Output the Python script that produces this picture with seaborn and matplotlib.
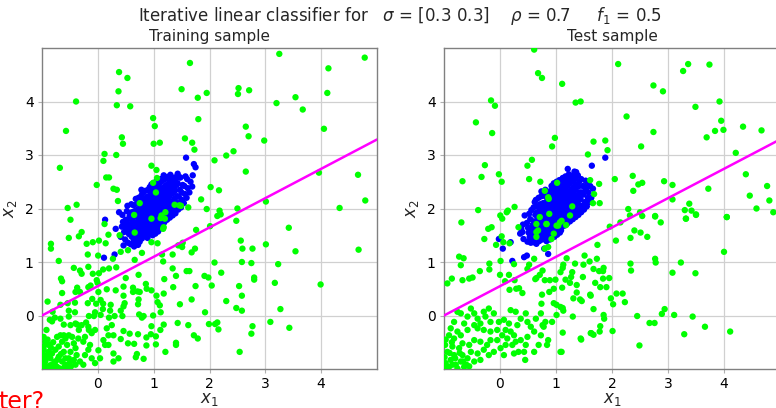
import matplotlib
matplotlib.use("Agg")
import matplotlib.pyplot as plt
import seaborn as sns
import pandas as pd

# ---------------- data ----------------
train_blue = [
    (0.11,1.08),(0.30,1.14),(0.13,1.79),(0.32,1.62),(1.58,2.95),(1.72,2.83),(1.75,2.77),
    (0.38,1.93),(0.41,1.47),(0.43,1.66),
    (0.46,1.31),(0.45,1.75),(0.47,1.56),(0.44,1.88),
    (0.49,1.42),(0.51,1.60),(0.50,1.79),(0.52,1.95),(0.48,1.68),
    (0.54,1.36),(0.56,1.52),(0.55,1.71),(0.57,1.86),(0.53,2.05),(0.56,1.63),
    (0.59,1.33),(0.61,1.47),(0.60,1.58),(0.62,1.70),(0.58,1.81),(0.61,1.93),(0.60,2.08),(0.63,1.77),
    (0.64,1.38),(0.66,1.50),(0.65,1.62),(0.67,1.72),(0.63,1.84),(0.66,1.95),(0.64,2.06),(0.68,2.18),(0.65,1.29),(0.67,1.88),
    (0.69,1.41),(0.71,1.53),(0.70,1.64),(0.72,1.76),(0.68,1.86),(0.71,1.98),(0.70,2.09),(0.73,2.20),(0.69,1.70),(0.72,1.32),(0.70,1.92),
    (0.74,1.45),(0.76,1.57),(0.75,1.68),(0.77,1.79),(0.73,1.90),(0.76,2.01),(0.74,2.12),(0.78,2.24),(0.75,1.38),(0.77,1.62),(0.74,1.84),(0.76,1.95),(0.78,2.35),
    (0.79,1.44),(0.81,1.55),(0.80,1.66),(0.82,1.77),(0.78,1.87),(0.81,1.97),(0.79,2.07),(0.83,2.18),(0.80,2.29),(0.82,1.61),(0.79,1.72),(0.81,1.82),(0.80,2.02),(0.82,2.12),(0.78,1.50),
    (0.84,1.49),(0.86,1.60),(0.85,1.70),(0.87,1.80),(0.83,1.91),(0.86,2.01),(0.84,2.11),(0.88,2.22),(0.85,2.33),(0.87,1.65),(0.84,1.75),(0.86,1.86),(0.85,1.96),(0.87,2.06),(0.83,2.16),(0.86,1.55),
    (0.89,1.52),(0.91,1.63),(0.90,1.73),(0.92,1.83),(0.88,1.93),(0.91,2.03),(0.89,2.13),(0.93,2.24),(0.90,2.35),(0.92,1.68),(0.89,1.78),(0.91,1.88),(0.90,1.98),(0.92,2.08),(0.88,2.18),(0.91,1.58),(0.93,2.40),(0.89,1.45),
    (0.94,1.56),(0.96,1.66),(0.95,1.76),(0.97,1.86),(0.93,1.96),(0.96,2.06),(0.94,2.16),(0.98,2.27),(0.95,2.38),(0.97,1.71),(0.94,1.81),(0.96,1.91),(0.95,2.01),(0.97,2.11),(0.93,2.21),(0.96,1.61),(0.98,1.50),(0.94,2.31),(0.96,2.45),
    (0.99,1.59),(1.01,1.69),(1.00,1.79),(1.02,1.89),(0.98,1.99),(1.01,2.09),(0.99,2.19),(1.03,2.30),(1.00,2.41),(1.02,1.74),(0.99,1.84),(1.01,1.94),(1.00,2.04),(1.02,2.14),(0.98,2.24),(1.01,1.64),(1.03,1.53),(0.99,2.35),(1.01,2.48),
    (1.04,1.63),(1.06,1.73),(1.05,1.83),(1.07,1.93),(1.03,2.03),(1.06,2.13),(1.04,2.23),(1.08,2.33),(1.05,2.44),(1.07,1.78),(1.04,1.88),(1.06,1.98),(1.05,2.08),(1.07,2.18),(1.03,2.28),(1.06,1.68),(1.08,1.57),(1.04,2.38),(1.06,2.52),
    (1.09,1.66),(1.11,1.76),(1.10,1.86),(1.12,1.96),(1.08,2.06),(1.11,2.16),(1.09,2.26),(1.13,2.37),(1.10,2.47),(1.12,1.81),(1.09,1.91),(1.11,2.01),(1.10,2.11),(1.12,2.21),(1.08,2.31),(1.11,1.71),(1.13,2.55),(1.09,1.60),
    (1.14,1.70),(1.16,1.80),(1.15,1.90),(1.17,2.00),(1.13,2.10),(1.16,2.20),(1.14,2.30),(1.18,2.40),(1.15,2.51),(1.17,1.85),(1.14,1.95),(1.16,2.05),(1.15,2.15),(1.17,2.25),(1.13,2.35),(1.16,1.75),(1.18,2.58),
    (1.19,1.74),(1.21,1.84),(1.20,1.94),(1.22,2.04),(1.18,2.14),(1.21,2.24),(1.19,2.34),(1.23,2.44),(1.20,2.55),(1.22,1.89),(1.19,1.99),(1.21,2.09),(1.20,2.19),(1.22,2.29),(1.18,2.62),
    (1.24,1.79),(1.26,1.89),(1.25,1.99),(1.27,2.09),(1.23,2.19),(1.26,2.29),(1.24,2.39),(1.28,2.49),(1.25,2.59),(1.27,1.94),(1.24,2.04),(1.26,2.14),(1.25,2.24),
    (1.29,1.83),(1.31,1.93),(1.30,2.03),(1.32,2.13),(1.28,2.23),(1.31,2.33),(1.29,2.43),(1.33,2.53),(1.30,2.63),(1.32,1.98),(1.29,2.08),(1.31,2.28),
    (1.34,1.87),(1.36,1.98),(1.35,2.08),(1.37,2.18),(1.33,2.28),(1.36,2.38),(1.34,2.48),(1.38,2.58),(1.35,2.13),(1.37,2.33),
    (1.39,1.91),(1.41,2.02),(1.40,2.12),(1.42,2.23),(1.38,2.33),(1.41,2.44),(1.39,2.54),(1.43,2.65),
    (1.44,1.98),(1.46,2.10),(1.45,2.22),(1.47,2.35),(1.43,2.47),(1.46,2.58),
    (1.49,2.02),(1.51,2.16),(1.50,2.30),(1.52,2.44),(1.48,2.58),
    (1.54,2.10),(1.56,2.27),(1.55,2.42),(1.57,2.60),
    (1.59,2.20),(1.61,2.38),(1.60,2.55),(1.64,2.30),(1.66,2.50),(1.69,2.41),(1.70,2.62),
]

train_green = [
    (3.25,4.89),(4.78,4.82),(1.65,4.72),(0.38,4.55),(0.53,4.44),(4.13,4.62),(1.50,4.23),(2.52,4.25),
    (2.71,4.21),(2.51,4.14),(1.95,4.16),(1.79,4.07),(0.37,4.19),(-0.39,4.00),(4.11,4.16),(3.54,4.08),
    (3.20,3.97),(3.67,3.85),(0.34,3.93),(0.58,3.91),(0.99,3.69),(1.02,3.54),(1.80,3.67),(2.65,3.53),
    (4.05,3.49),(-0.57,3.45),(2.70,3.35),(0.43,3.33),(2.98,3.27),(1.56,3.31),(1.69,3.23),(0.45,3.21),
    (1.00,3.21),(1.11,3.23),(1.73,3.10),(2.43,3.07),(2.30,2.99),(2.09,2.90),(0.12,3.02),(0.10,2.89),
    (0.33,3.00),(-0.68,2.76),(0.96,2.80),(1.05,2.72),(2.65,2.69),(3.96,2.67),(4.66,2.63),(0.15,2.58),
    (0.20,2.58),(-0.02,2.44),(2.02,2.40),(0.28,2.37),(0.34,2.35),(2.17,2.34),(1.06,2.57),(0.99,2.48),
    (1.85,2.17),(3.01,2.13),(4.79,2.15),(0.36,2.14),(-0.54,2.01),(-0.38,2.07),(0.75,2.10),(1.04,2.30),
    (1.375,2.07),(1.49,2.05),(1.62,2.02),(1.95,1.99),(2.50,2.00),(4.33,2.01),(2.18,1.96),(2.20,1.89),
    (2.14,1.86),(0.65,1.88),(1.21,1.93),(0.96,1.81),(1.14,1.87),(1.17,1.62),(1.46,2.06),(0.12,1.71),
    (-0.49,1.79),(-0.84,1.34),(-0.84,1.25),(-0.52,1.45),(-0.29,1.56),(-0.34,1.48),(-0.20,1.34),(-0.09,1.37),
    (0.02,1.40),(0.14,1.35),(0.19,1.51),(0.39,1.50),(-0.70,1.02),(-0.18,1.14),(0.005,1.12),(0.66,1.55),
    (0.96,1.37),(1.07,1.35),(0.79,1.17),(0.66,1.04),(0.54,1.22),(0.41,1.19),(0.27,1.06),(1.15,1.14),
    (1.17,1.01),(1.18,1.65),(1.20,1.81),(1.125,1.82),(1.34,1.14),(1.44,1.31),(1.51,1.28),(1.52,1.36),
    (1.76,1.60),(1.74,1.25),(1.68,1.18),(2.01,1.67),(2.48,1.77),(2.56,1.40),(2.59,1.25),(2.77,1.25),
    (2.58,1.00),(2.75,0.98),(3.01,1.33),(3.42,1.64),(3.54,1.20),(4.67,1.23),(3.23,0.96),(2.09,0.99),
    (2.21,0.80),(1.91,0.74),(1.98,0.71),(2.04,0.56),(1.34,0.88),(1.40,0.74),(1.59,0.83),(1.64,0.83),
    (1.19,0.68),(1.35,0.53),(1.75,0.55),(1.68,0.30),(1.47,0.21),(1.18,0.41),(1.05,0.37),(1.07,0.25),
    (1.11,0.19),(1.125,0.06),(0.96,0.47),(0.875,0.50),(0.86,0.59),(0.75,0.44),(0.73,0.30),(0.72,0.21),
    (0.71,0.45),(0.73,0.76),(0.50,0.70),(0.46,0.54),(0.46,0.37),(0.63,0.52),(0.63,0.44),(0.33,0.90),
    (0.20,0.88),(0.095,0.86),(0.02,0.79),(-0.02,0.66),(-0.005,0.61),(0.16,0.49),(0.32,0.47),(0.095,0.22),
    (0.05,0.29),(0.01,0.44),(-0.13,0.56),(-0.17,0.53),(-0.09,0.78),(-0.17,0.91),(-0.29,0.78),(-0.32,0.84),
    (-0.43,0.89),(-0.66,0.69),(-0.64,0.64),(-0.64,0.42),(-0.37,0.52),(-0.40,0.44),(-0.32,0.44),(-0.10,0.31),
    (-0.03,0.22),(-0.18,0.23),(-0.41,0.24),(-0.54,0.23),(-0.90,0.26),(-0.81,0.07),(-0.67,0.20),(-0.77,-0.04),
    (-0.86,-0.08),(-0.92,-0.27),(-0.52,0.09),(-0.41,0.06),(-0.52,-0.02),(-0.37,-0.17),(-0.34,-0.27),(-0.21,-0.13),
    (-0.16,-0.27),(-0.16,-0.01),(-0.05,0.06),(-0.07,-0.01),(0.05,0.01),(0.09,0.12),(0.22,0.09),(0.23,0.20),
    (0.20,-0.04),(0.30,-0.01),(0.41,0.09),(0.44,-0.01),(0.46,0.17),(0.48,0.23),(0.74,0.02),(0.82,-0.01),
    (0.79,-0.04),(0.99,0.00),(1.18,-0.17),(1.12,-0.27),(0.96,-0.20),(0.95,-0.35),(0.72,-0.35),(0.57,-0.34),
    (0.46,-0.29),(0.41,-0.44),(0.54,-0.52),(0.65,-0.53),(0.68,-0.78),(0.82,-0.81),(0.70,-0.72),(0.87,-0.56),
    (0.87,-0.41),(1.04,-0.54),(1.04,-0.39),(1.21,-0.68),(1.40,-0.51),(1.40,-0.55),(1.43,-0.14),(1.62,-0.18),
    (1.72,-0.37),(1.79,-0.43),(1.92,0.06),(1.99,-0.16),(2.10,-0.16),(2.14,-0.13),(2.16,-0.26),(2.30,0.27),
    (2.48,0.14),(2.58,0.09),(2.58,0.37),(2.53,0.55),(2.80,0.71),(2.80,0.67),(2.77,-0.20),(2.75,-0.34),
    (3.17,0.61),(3.27,0.12),(3.09,-0.12),(3.43,-0.23),(3.99,0.58),(2.54,-0.68),
    (-0.94,-0.49),(-0.88,-0.55),(-0.97,-0.64),(-0.91,-0.74),(-0.82,-0.71),(-0.85,-0.80),(-0.94,-0.86),(-0.76,-0.86),
    (-0.70,-0.77),(-0.82,-0.92),(-0.73,-0.96),(-0.64,-0.86),(-0.97,-0.96),(-0.88,-0.96),(-0.67,-0.37),(-0.73,-0.40),
    (-0.61,-0.37),(-0.58,-0.43),(-0.52,-0.37),(-0.46,-0.40),(-0.64,-0.49),(-0.55,-0.55),(-0.43,-0.52),(-0.70,-0.58),
    (-0.76,-0.64),(-0.61,-0.68),(-0.49,-0.68),(-0.40,-0.61),(-0.38,-0.74),(-0.52,-0.80),(-0.43,-0.83),(-0.32,-0.86),
    (-0.58,-0.92),(-0.40,-0.92),(-0.26,-0.92),(-0.23,-0.74),(-0.17,-0.64),(-0.14,-0.55),(-0.26,-0.49),(-0.35,-0.43),
    (-0.23,-0.40),(-0.11,-0.33),(-0.05,-0.27),(-0.17,-0.21),(-0.29,-0.18),(-0.40,-0.15),(-0.49,-0.18),(-0.61,-0.17),
    (-0.67,-0.06),(-0.82,-0.11),(-0.11,-0.80),(-0.05,-0.89),
    (-0.99,-0.80),(-0.95,-0.99),(-0.99,-0.70),(-0.96,-0.90),(-0.90,-0.99),(-0.85,-0.93),(-0.93,-0.80),(-0.80,-0.98),
    (-0.78,-0.88),(-0.88,-0.68),(-0.97,-0.58),(-0.68,-0.99),(-0.60,-0.97),(-0.66,-0.72),(-0.72,-0.82),(-0.99,-0.99),
    (-1.02,-0.85),(-0.92,-1.02),(-1.03,-0.62),(-0.75,-1.02),(-0.55,-0.98),(-0.48,-0.95),(-0.84,-0.60),(-0.90,-0.45),
    (-0.97,-0.40),(-0.80,-0.50),(-0.58,-0.80),(-0.50,-0.88),
    (0.04,-0.80),(0.01,-0.65),(0.13,-0.55),(0.10,-0.46),(0.19,-0.37),(0.28,-0.37),(0.16,-0.24),(0.25,-0.18),
    (0.19,-0.55),(0.28,-0.71),(0.37,-0.80),(0.28,-0.86),
]

test_blue = [
    (1.88,2.95),(1.64,2.80),(0.22,1.02),(0.05,1.25),(-0.02,1.43),(0.19,1.37),(0.43,1.09),(0.40,1.56),
    (0.79,1.25),(0.48,1.12),(0.86,1.15),(1.21,2.74),(1.33,2.69),
    (0.36,1.53),(0.42,1.43),(0.41,1.70),(0.44,1.87),(0.38,1.62),
    (0.49,1.38),(0.51,1.55),(0.48,1.73),(0.52,1.90),(0.50,1.64),(0.53,1.47),
    (0.55,1.36),(0.57,1.58),(0.54,1.80),(0.56,1.97),(0.58,1.69),(0.55,1.50),
    (0.60,1.37),(0.62,1.52),(0.59,1.63),(0.61,1.76),(0.63,1.88),(0.60,2.02),(0.62,2.12),(0.58,1.45),
    (0.65,1.34),(0.67,1.46),(0.64,1.57),(0.66,1.68),(0.68,1.80),(0.65,1.92),(0.67,2.04),(0.64,2.16),(0.66,1.74),(0.68,1.62),
    (0.70,1.39),(0.72,1.51),(0.69,1.61),(0.71,1.73),(0.73,1.84),(0.70,1.96),(0.72,2.08),(0.69,2.20),(0.71,1.67),(0.73,1.44),(0.70,1.90),
    (0.75,1.42),(0.77,1.54),(0.74,1.65),(0.76,1.76),(0.78,1.87),(0.75,1.99),(0.77,2.10),(0.74,2.23),(0.76,1.60),(0.78,1.71),(0.75,1.82),(0.77,1.93),(0.74,2.32),
    (0.80,1.46),(0.82,1.57),(0.79,1.68),(0.81,1.79),(0.83,1.90),(0.80,2.01),(0.82,2.12),(0.79,2.24),(0.81,2.35),(0.83,1.63),(0.80,1.74),(0.82,1.85),(0.79,1.96),(0.81,2.06),(0.83,1.39),
    (0.85,1.47),(0.87,1.58),(0.84,1.69),(0.86,1.80),(0.88,1.90),(0.85,2.00),(0.87,2.10),(0.84,2.21),(0.86,2.31),(0.88,1.64),(0.85,1.74),(0.87,1.85),(0.84,1.95),(0.86,2.05),(0.88,2.16),(0.85,1.53),
    (0.90,1.50),(0.92,1.61),(0.89,1.71),(0.91,1.81),(0.93,1.91),(0.90,2.01),(0.92,2.11),(0.89,2.22),(0.91,2.33),(0.93,1.66),(0.90,1.76),(0.92,1.86),(0.89,1.96),(0.91,2.06),(0.93,2.17),(0.90,1.56),(0.92,2.42),(0.89,1.42),
    (0.95,1.54),(0.97,1.64),(0.94,1.74),(0.96,1.84),(0.98,1.94),(0.95,2.04),(0.97,2.14),(0.94,2.25),(0.96,2.36),(0.98,1.69),(0.95,1.79),(0.97,1.89),(0.94,1.99),(0.96,2.09),(0.98,2.19),(0.95,1.59),(0.97,1.47),(0.94,2.30),(0.96,2.47),
    (1.00,1.57),(1.02,1.67),(0.99,1.77),(1.01,1.87),(1.03,1.97),(1.00,2.07),(1.02,2.17),(0.99,2.28),(1.01,2.39),(1.03,1.72),(1.00,1.82),(1.02,1.92),(0.99,2.02),(1.01,2.12),(1.03,2.22),(1.00,1.62),(1.02,1.51),(0.99,2.33),(1.01,2.50),
    (1.05,1.61),(1.07,1.71),(1.04,1.81),(1.06,1.91),(1.08,2.01),(1.05,2.11),(1.07,2.21),(1.04,2.31),(1.06,2.42),(1.08,1.76),(1.05,1.86),(1.07,1.96),(1.04,2.06),(1.06,2.16),(1.08,2.26),(1.05,1.66),(1.07,1.55),(1.04,2.36),(1.06,2.53),
    (1.10,1.65),(1.12,1.75),(1.09,1.85),(1.11,1.95),(1.13,2.05),(1.10,2.15),(1.12,2.25),(1.09,2.35),(1.11,2.46),(1.13,1.80),(1.10,1.90),(1.12,2.00),(1.09,2.10),(1.11,2.20),(1.13,2.30),(1.10,1.70),(1.12,2.57),(1.09,1.59),
    (1.15,1.68),(1.17,1.78),(1.14,1.88),(1.16,1.98),(1.18,2.08),(1.15,2.18),(1.17,2.28),(1.14,2.38),(1.16,2.49),(1.18,1.83),(1.15,1.93),(1.17,2.03),(1.14,2.13),(1.16,2.23),(1.18,2.33),(1.15,1.73),(1.17,2.60),
    (1.20,1.72),(1.22,1.82),(1.19,1.92),(1.21,2.02),(1.23,2.12),(1.20,2.22),(1.22,2.32),(1.19,2.42),(1.21,2.53),(1.23,1.87),(1.20,1.97),(1.22,2.07),(1.19,2.17),(1.21,2.27),(1.23,2.64),
    (1.25,1.76),(1.27,1.86),(1.24,1.96),(1.26,2.06),(1.28,2.16),(1.25,2.26),(1.27,2.36),(1.24,2.46),(1.26,2.57),(1.28,1.91),(1.25,2.01),(1.27,2.11),(1.24,2.21),
    (1.30,1.80),(1.32,1.90),(1.29,2.00),(1.31,2.10),(1.33,2.20),(1.30,2.30),(1.32,2.40),(1.29,2.50),(1.31,2.62),(1.33,1.95),(1.30,2.05),(1.32,2.25),
    (1.35,1.84),(1.37,1.95),(1.34,2.05),(1.36,2.15),(1.38,2.25),(1.35,2.35),(1.37,2.45),(1.34,2.55),(1.36,2.68),(1.38,2.10),
    (1.40,1.88),(1.42,1.99),(1.39,2.09),(1.41,2.20),(1.43,2.30),(1.40,2.41),(1.42,2.51),(1.39,2.62),
    (1.45,1.93),(1.47,2.05),(1.44,2.17),(1.46,2.30),(1.48,2.42),(1.45,2.55),
    (1.50,1.98),(1.52,2.12),(1.49,2.26),(1.51,2.40),(1.53,2.52),
    (1.55,2.04),(1.57,2.20),(1.54,2.35),(1.56,2.48),(1.60,2.12),(1.58,2.30),(1.61,2.42),(1.63,2.20),(1.66,2.37),
]

test_green = [
    (0.61,4.97),(2.11,4.70),(3.27,4.57),(3.36,4.70),(3.74,4.69),(0.68,4.53),(0.75,4.44),(1.11,4.33),
    (2.74,4.30),(2.91,4.19),(-0.16,4.02),(-0.09,3.92),(1.35,3.98),(1.44,4.00),(3.92,4.00),(3.49,3.90),
    (2.26,3.72),(3.95,3.64),(3.84,3.45),(3.99,3.47),(4.34,3.53),(4.67,3.46),(3.69,3.33),(-0.43,3.61),
    (-0.14,3.41),(2.74,3.43),(2.52,3.16),(0.98,3.32),(0.93,3.16),(1.67,3.25),(1.88,3.27),(1.92,3.09),
    (1.57,3.01),(4.21,3.04),(0.57,2.91),(0.49,2.80),(-0.27,2.81),(-0.33,2.59),(-0.02,2.64),(0.03,2.50),
    (-0.67,2.51),(0.52,2.55),(0.72,2.50),(1.02,2.48),(1.61,2.53),(1.77,2.46),(2.05,2.55),(2.37,2.61),
    (2.47,2.45),(2.54,2.48),(2.93,2.51),(3.08,2.44),(3.72,2.37),(4.39,2.64),(4.77,2.42),(4.46,2.24),
    (4.81,2.15),(4.58,2.00),(4.88,1.93),(2.38,2.33),(1.68,2.27),(1.66,2.10),(1.78,2.10),(3.08,2.17),
    (3.38,2.09),(3.30,1.97),(3.42,1.96),(3.50,1.88),(2.29,1.99),(2.77,1.85),(2.50,1.93),(4.05,1.84),
    (3.32,1.81),(-0.39,1.97),(0.26,2.03),(0.14,1.96),(0.005,1.87),(0.87,2.18),(0.88,1.90),(1.29,2.04),
    (0.80,2.33),(0.04,1.81),(0.86,2.21),(0.71,1.84),(0.83,1.71),(1.10,1.77),(1.04,1.68),(0.68,1.59),
    (0.65,1.47),(0.92,1.43),(0.86,1.28),(0.65,1.71),(0.65,1.56),(0.83,1.71),(0.96,1.53),(1.01,1.68),
    (1.07,1.74),(1.18,1.69),(1.25,1.87),(0.80,1.25),
    (-0.69,1.74),(-0.21,1.62),(-0.15,1.65),(-0.28,1.43),(-0.07,1.32),(0.12,1.93),(0.03,1.48),(0.06,1.37),
    (0.17,1.35),(0.33,1.65),(-0.73,1.10),(-0.65,1.07),(-0.70,0.94),(-0.94,0.60),(-0.86,0.69),(-0.67,0.66),
    (-0.55,0.69),(-0.49,0.71),(-0.36,0.83),(-0.19,0.86),(-0.19,0.97),(0.01,1.02),(0.25,0.96),(0.16,0.76),
    (0.00,0.76),(0.09,0.64),(0.26,0.66),(0.29,0.50),(0.17,0.48),(0.34,0.51),(0.40,0.42),(0.49,0.87),
    (0.52,0.95),(0.61,1.06),(0.65,0.70),(0.63,0.68),(0.71,0.76),(0.80,0.66),(0.76,0.84),(0.89,0.66),
    (0.99,0.67),(0.88,0.44),(0.96,0.50),(0.75,0.39),(0.74,0.22),(0.96,0.23),(1.01,0.20),(1.12,0.14),
    (1.13,0.09),(1.01,0.01),(1.11,0.52),(1.17,0.67),(1.08,0.81),(1.12,0.89),(1.13,0.95),(1.19,1.07),
    (1.29,0.81),(1.27,0.72),(1.25,0.61),(1.37,0.57),(1.31,0.32),(1.30,-0.02),(1.43,0.30),(1.46,0.27),
    (1.37,0.43),(1.34,0.97),(1.49,0.95),(1.51,1.12),(1.48,0.72),(1.60,1.01),(1.61,0.39),(1.62,0.37),
    (1.67,0.12),(1.70,0.61),(1.73,1.06),(1.74,1.32),(1.67,0.87),(1.77,0.83),(1.79,0.53),(1.84,0.83),
    (1.84,0.69),(1.85,0.89),(1.95,0.70),(1.90,0.53),(1.85,0.01),(1.86,-0.06),(1.79,-0.20),(1.78,-0.30),
    (1.67,-0.36),(1.63,-0.33),(1.45,-0.45),(1.98,0.32),(2.02,0.21),(2.08,0.41),(2.19,0.41),(2.01,-0.29),
    (2.23,0.25),(1.96,1.66),(2.07,1.40),(2.15,1.74),(2.32,1.87),(2.33,1.45),(2.40,1.59),(2.51,1.55),
    (2.63,1.47),(2.33,0.97),(2.34,0.84),(2.54,1.86),(2.77,1.06),(2.78,0.99),(2.87,1.74),(2.77,1.86),
    (3.08,0.80),(3.23,0.99),(3.49,0.79),(3.32,1.81),(3.50,1.89),(4.00,1.19),(4.05,1.84),(2.49,-0.56),
    (2.45,-0.01),(2.67,-0.14),(2.76,-0.14),(2.89,0.03),(2.94,0.12),(3.11,0.01),(3.29,-0.35),(3.44,-0.02),
    (3.66,-0.21),(4.11,-0.30),
    (-0.76,0.07),(-0.70,0.04),(-0.52,0.13),(-0.46,0.04),(-0.58,-0.02),(-0.40,-0.06),(-0.29,0.07),(-0.26,-0.02),
    (-0.20,0.13),(-0.11,0.04),(-0.17,-0.12),(-0.35,-0.15),(-0.46,-0.18),(-0.64,-0.15),(-0.82,-0.12),(-0.88,-0.24),
    (-0.76,-0.30),(-0.91,-0.37),(-0.82,-0.43),(-0.70,-0.37),(-0.58,-0.27),(-0.40,-0.24),(-0.29,-0.27),(-0.17,-0.30),
    (-0.05,-0.27),(-0.02,-0.12),(0.07,-0.08),(0.16,-0.15),(0.10,-0.27),(0.19,-0.30),(0.04,-0.37),(0.13,-0.43),
    (0.25,-0.37),(0.28,-0.49),(0.22,-0.55),(0.10,-0.55),(0.01,-0.61),(-0.05,-0.46),(-0.17,-0.46),(-0.23,-0.55),
    (-0.35,-0.49),(-0.46,-0.46),(-0.55,-0.55),(-0.67,-0.52),(-0.73,-0.61),(-0.85,-0.58),(-0.94,-0.68),(-0.82,-0.74),
    (-0.67,-0.74),(-0.52,-0.68),(-0.40,-0.71),(-0.29,-0.64),(-0.20,-0.74),(-0.11,-0.68),(-0.35,-0.83),(-0.46,-0.86),
    (-0.58,-0.80),(-0.70,-0.86),(-0.88,-0.83),(-0.97,-0.89),(-0.79,-0.92),(-0.91,-0.96),(-0.64,-0.96),(0.07,-0.74),
    (0.25,-0.71),(0.43,-0.68),(0.46,-0.55),(0.61,-0.68),(0.37,-0.46),(0.49,-0.40),(0.61,-0.30),(0.55,-0.21),
    (0.49,-0.12),(0.31,-0.18),(0.37,-0.06),(0.46,0.04),(0.28,0.07),(0.19,0.10),(0.73,0.04),(0.76,-0.18),
    (0.73,-0.37),(1.08,0.16),(1.08,-0.68),(1.44,-0.43),(1.62,-0.33),(1.10,-0.68),(0.86,-0.46),(0.93,-0.12),
    (0.78,-0.21),(0.69,-0.55),(0.84,-0.55),(0.45,-0.83),(0.33,-0.68),(0.64,-0.06),(0.81,-0.12),(1.12,-0.32),
    (-0.99,-0.78),(-0.95,-0.99),(-0.85,-0.92),(-0.98,-0.55),(-0.90,-0.70),(-0.76,-0.99),(-0.60,-0.92),(-0.72,-0.70),
    (-1.02,-0.95),(-0.93,-1.02),(-0.80,-0.80),(-0.66,-0.86),(-0.55,-0.95),(-0.97,-0.45),(-0.86,-0.50),
]

# decision boundary end points
train_line_x = [-1.0, 5.0]
train_line_y = [0.0, 3.29]
test_line_x = [-1.0, 5.0]
test_line_y = [0.0, 3.29]

ticks = [0, 1, 2, 3, 4]
panel_titles = ["Training sample", "Test sample"]
suptitle = r"Iterative linear classifier for   $\sigma$ = [0.3 0.3]    $\rho$ = 0.7     $f_1$ = 0.5"

# ---------------- drawing ----------------
sns.set_style("whitegrid")
plt.rcParams["font.family"] = ["DejaVu Sans"]

fig = plt.figure(figsize=(7.76, 4.08), dpi=100)
ax1 = fig.add_axes([42/776, 39/408, 335/776, 321/408])
ax2 = fig.add_axes([444/776, 39/408, 336/776, 321/408])

def frame(blue, green):
    b = pd.DataFrame(blue, columns=["x1", "x2"]); b["cls"] = "b"
    g = pd.DataFrame(green, columns=["x1", "x2"]); g["cls"] = "g"
    return pd.concat([b, g], ignore_index=True)

panels = [
    (ax1, frame(train_blue, train_green), train_line_x, train_line_y, panel_titles[0]),
    (ax2, frame(test_blue, test_green), test_line_x, test_line_y, panel_titles[1]),
]

for ax, df, lx, ly, title in panels:
    sns.scatterplot(data=df, x="x1", y="x2", hue="cls",
                    palette={"b": "#0000ff", "g": "#00ff00"},
                    s=21, linewidth=0, legend=False, ax=ax, zorder=3)
    sns.lineplot(x=lx, y=ly, color="#ff00ff", linewidth=1.8, ax=ax, zorder=4)
    ax.set_xlim(-1, 5)
    ax.set_ylim(-1, 5)
    ax.set_xticks(ticks)
    ax.set_yticks(ticks)
    ax.grid(True, color="#d0d0d0", linewidth=0.9)
    ax.set_axisbelow(True)
    for sp in ax.spines.values():
        sp.set_color("#808080")
        sp.set_linewidth(1.0)
    ax.tick_params(bottom=True, left=True, length=3, width=0.8, color="#b0b0b0",
                   labelsize=10, labelcolor="black", pad=3)
    ax.set_xlabel(r"$x_1$", fontsize=12, labelpad=-1)
    ax.set_ylabel(r"$x_2$", fontsize=12, labelpad=4)
    ax.set_title(title, fontsize=11, pad=5)

fig.text(400/776, 1 - 16/408, suptitle, ha="center", va="center", fontsize=12)
fig.text(-0.002, -0.003, "ter?", color="red", fontsize=17, ha="left", va="baseline")

fig.savefig("out.png", dpi=100)
